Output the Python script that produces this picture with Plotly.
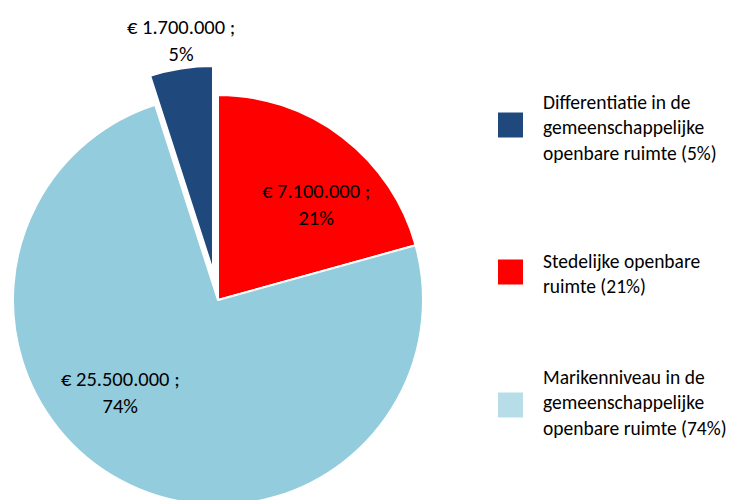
import plotly.graph_objects as go

# ---- data ----
labels = [
    "Differentiatie in de gemeenschappelijke openbare ruimte",
    "Stedelijke openbare ruimte",
    "Marikenniveau in de gemeenschappelijke openbare ruimte",
]
legend_text = [
    "Differentiatie in de<br>gemeenschappelijke<br>openbare ruimte (5%)",
    "Stedelijke openbare<br>ruimte (21%)",
    "Marikenniveau in de<br>gemeenschappelijke<br>openbare ruimte (74%)",
]
values = [1700000, 7100000, 25500000]

slice_colors = ["#1F497D", "#FF0000", "#93CDDD"]
legend_colors = ["#1F497D", "#FF0000", "#B7DEE8"]

FONT = "Carlito, Calibri, Lato, sans-serif"
W, H = 750, 500
T = "rgba(0,0,0,0)"

total = sum(values)
rot = -values[0] / total * 360.0

# page offset of the plot div (body margin)
OFF = 8
R = 205
cx, cy = 218 - OFF, 300 - OFF
dx, dy = -5, -29  # offset of the pulled slice


def dom(cx_, cy_):
    return dict(
        x=[max(0.0, (cx_ - R) / W), min(1.0, (cx_ + R) / W)],
        y=[max(0.0, (H - (cy_ + R)) / H), min(1.0, (H - (cy_ - R)) / H)],
    )


fig = go.Figure()

fig.add_trace(go.Pie(
    labels=labels, values=values, sort=False, direction="clockwise",
    rotation=rot, domain=dom(cx, cy),
    marker=dict(colors=[T, slice_colors[1], slice_colors[2]],
                line=dict(color=[T, "white", "white"], width=2)),
    textinfo="none", showlegend=False, hoverinfo="skip",
))

fig.add_trace(go.Pie(
    labels=labels, values=values, sort=False, direction="clockwise",
    rotation=rot, domain=dom(cx + dx, cy + dy),
    marker=dict(colors=[slice_colors[0], T, T],
                line=dict(color=["white", T, T], width=2)),
    textinfo="none", showlegend=False, hoverinfo="skip",
))


def euro(v):
    return "€ " + f"{v:,.0f}".replace(",", ".") + " ;"


# slice label placement (screen px)
label_pos = [(181, 41), (316, 204), (120, 392)]
annos, shapes = [], []
for v, (lx, ly) in zip(values, label_pos):
    pct = round(v / total * 100)
    annos.append(dict(xref="paper", yref="paper",
                      x=(lx - OFF) / W, y=(H - (ly - OFF)) / H,
                      xanchor="center", yanchor="middle", align="center",
                      text=f"{euro(v)}<br>{pct}%", showarrow=False,
                      font=dict(family=FONT, size=20.5, color="black")))

# manual legend
sw_y = [125, 272, 405]
txt_y = [127, 273, 402]
for txt, col, sy, ty in zip(legend_text, legend_colors, sw_y, txt_y):
    shapes.append(dict(type="rect", xref="paper", yref="paper",
                       x0=(498 - OFF) / W, x1=(523 - OFF) / W,
                       y0=(H - (sy - OFF) - 12.5) / H,
                       y1=(H - (sy - OFF) + 12.5) / H,
                       fillcolor=col, line=dict(width=0)))
    annos.append(dict(xref="paper", yref="paper", x=(541 - OFF) / W,
                      y=(H - (ty - OFF)) / H,
                      xanchor="left", yanchor="middle", align="left",
                      text=txt, showarrow=False,
                      font=dict(family=FONT, size=19.5, color="black")))

fig.update_layout(
    width=W, height=H, margin=dict(l=0, r=0, t=0, b=0),
    paper_bgcolor="white", plot_bgcolor="white",
    shapes=shapes, annotations=annos,
    font=dict(family=FONT),
)

fig.write_html("out.html")
